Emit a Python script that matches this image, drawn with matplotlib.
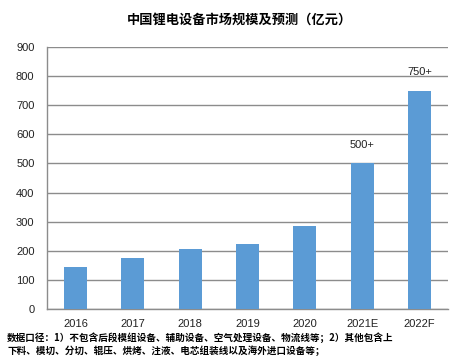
import matplotlib
matplotlib.use("Agg")
import matplotlib.pyplot as plt

categories = ["2016", "2017", "2018", "2019", "2020", "2021E", "2022F"]
values = [143, 175, 205, 225, 285, 500, 750]
bar_labels = ["", "", "", "", "", "500+", "750+"]
yticks = [0, 100, 200, 300, 400, 500, 600, 700, 800, 900]
title = "中国锂电设备市场规模及预测（亿元）"
note = ("数据口径：1）不包含后段模组设备、辅助设备、空气处理设备、物流线等；2）其他包含上\n"
        "下料、模切、分切、辊压、烘烤、注液、电芯组装线以及海外进口设备等；")

plt.rcParams['font.family'] = ['Liberation Sans', 'Noto Sans CJK SC', 'DejaVu Sans']

fig = plt.figure(figsize=(4.68, 3.61), dpi=100)
ax = fig.add_axes([47/468, 1 - 309/361, (448-47)/468, (309-47)/361])

x = range(len(categories))
ax.bar(x, values, width=0.40, color="#5B9BD5", zorder=3)
ax.set_ylim(0, 900)
ax.set_xlim(-0.5, len(categories) - 0.5)
ax.set_yticks(yticks)
ax.set_xticks(list(x))
ax.set_xticklabels(categories)
ax.grid(axis="y", color="#8C8C8C", linewidth=1.0, zorder=0)
for s in ["top", "right"]:
    ax.spines[s].set_visible(False)
for s in ["left", "bottom"]:
    ax.spines[s].set_color("#8C8C8C")
    ax.spines[s].set_linewidth(1.0)
ax.tick_params(axis="both", length=0, labelsize=8, colors="#222222")
ax.tick_params(axis="y", pad=9)
ax.tick_params(axis="x", pad=7)

for xi, v, lab in zip(x, values, bar_labels):
    if lab:
        ax.annotate(lab, (xi, v), xytext=(0, 10), textcoords="offset points",
                    ha="center", va="bottom", fontsize=8, color="#222222")

fig.text(239/468, 1 - 20/361, title, ha="center", va="center", fontsize=9.5,
         fontweight="bold", family=['Noto Sans CJK SC', 'DejaVu Sans'])
fig.text(7/468, 1 - 344/361, note, ha="left", va="center", fontsize=6.9,
         fontweight="bold", linespacing=1.25, family=['Noto Sans CJK SC', 'DejaVu Sans'])

fig.savefig("out.png", dpi=100)
